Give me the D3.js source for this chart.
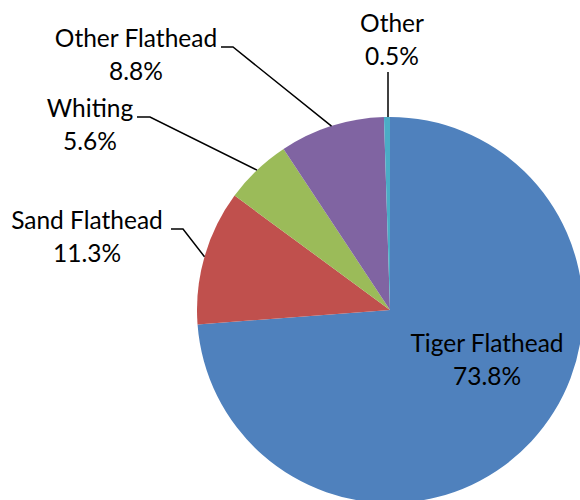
<!DOCTYPE html>
<html>
<head>
<meta charset="utf-8">
<script src="https://cdn.jsdelivr.net/npm/d3@7"></script>
<style>
  html, body { margin: 0; padding: 0; background: #fff; }
  svg { display: block; }
  text { font-family: Lato, "Open Sans", sans-serif; fill: #000; }
</style>
</head>
<body>
<svg id="chart" width="580" height="500"></svg>
<script>
// Catch composition by species (share of total, %)
const categories = ["Tiger Flathead", "Sand Flathead", "Whiting", "Other Flathead", "Other"];
const shares = [73.8, 11.3, 5.6, 8.8, 0.5];
const colors = ["#4F81BD", "#C0504D", "#9BBB59", "#8064A2", "#4BACC6"];

// Label placement: text centre, first baseline, and leader-line elbow (null = inside label)
const labelLayout = [
  { x: 487, y: 352, elbow: null },
  { x: 87,  y: 229, elbow: [[171, 229], [183, 229]] },
  { x: 90,  y: 117, elbow: [[137, 117], [150, 117]] },
  { x: 136, y: 47,  elbow: [[221, 47], [233, 47]] },
  { x: 392, y: 32,  elbow: [[388, 72]] }
];

const svg = d3.select("#chart");
const cx = 390, cy = 310, radius = 193;
const fontSize = 24.5, lineGap = 33;

const data = categories.map((c, i) => ({ name: c, value: shares[i], color: colors[i], layout: labelLayout[i] }));

const pie = d3.pie().sort(null).value(d => d.value).startAngle(0).endAngle(2 * Math.PI);
const arc = d3.arc().innerRadius(0).outerRadius(radius);
const edge = d3.arc().innerRadius(radius).outerRadius(radius);

const g = svg.append("g").attr("transform", `translate(${cx},${cy})`);
const arcs = pie(data);

g.selectAll("path.slice")
  .data(arcs)
  .join("path")
  .attr("class", "slice")
  .attr("d", arc)
  .attr("fill", d => d.data.color);

// Leader lines from the slice edge to the label
const line = d3.line();
svg.selectAll("path.leader")
  .data(arcs.filter(d => d.data.layout.elbow))
  .join("path")
  .attr("class", "leader")
  .attr("fill", "none")
  .attr("stroke", "#000")
  .attr("stroke-width", 1.5)
  .attr("d", d => {
    const [ex, ey] = edge.centroid(d);
    const pts = d.data.layout.elbow.slice();
    const tip = [cx + ex, cy + ey];
    if (pts.length === 1) tip[0] = pts[0][0];
    return line(pts.concat([tip]));
  });

// Category name and percentage labels
const labels = svg.selectAll("g.label")
  .data(arcs)
  .join("g")
  .attr("class", "label");

labels.append("text")
  .attr("x", d => d.data.layout.x)
  .attr("y", d => d.data.layout.y)
  .attr("text-anchor", "middle")
  .attr("font-size", fontSize)
  .text(d => d.data.name);

labels.append("text")
  .attr("x", d => d.data.layout.x)
  .attr("y", d => d.data.layout.y + lineGap)
  .attr("text-anchor", "middle")
  .attr("font-size", fontSize)
  .text(d => d.data.value.toFixed(1) + "%");
</script>
</body>
</html>
